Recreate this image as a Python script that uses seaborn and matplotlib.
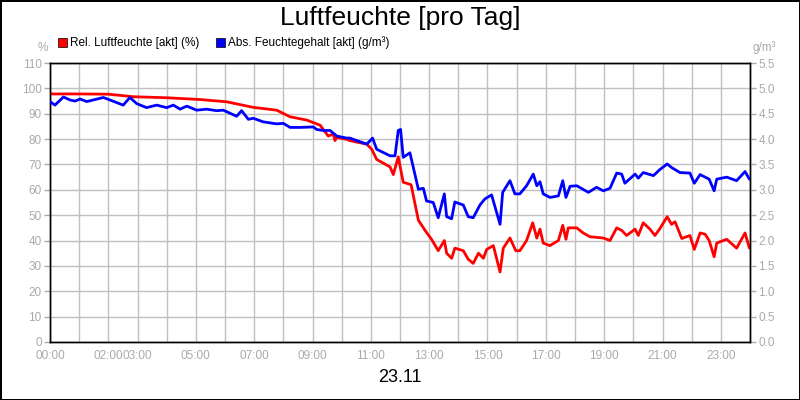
import matplotlib
matplotlib.use("Agg")
import matplotlib.pyplot as plt
import seaborn as sns
import pandas as pd

sns.set_theme(style="white")
plt.rcParams['font.family'] = ['Liberation Sans', 'DejaVu Sans']

rel_hours = [0, 1.0, 2.0, 2.86, 4.0, 5.14, 6.06, 6.97, 7.77, 8.23, 8.80, 9.26, 9.54, 9.71, 9.77, 9.83, 10.17,
             10.28, 10.86, 11.03, 11.2, 11.66, 11.77, 11.94, 12.11, 12.38, 12.63, 12.86, 13.08, 13.31, 13.52, 13.6,
             13.77, 13.88, 14.17, 14.34, 14.51, 14.69, 14.86, 14.97, 15.2, 15.43, 15.54, 15.77, 15.97, 16.11, 16.34,
             16.55, 16.69, 16.8, 16.91, 17.14, 17.43, 17.58, 17.69, 17.77, 18.06, 18.28, 18.51, 18.97, 19.2, 19.43,
             19.6, 19.77, 20.06, 20.17, 20.34, 20.57, 20.74, 20.91, 21.16, 21.31, 21.43, 21.66, 21.94, 22.09, 22.29,
             22.46, 22.6, 22.77, 22.86, 23.2, 23.54, 23.83, 23.98]
rel_values = [97.8, 97.8, 97.7, 96.7, 96.3, 95.6, 94.7, 92.5, 91.4, 88.8, 87.5, 85.5, 81.2, 82, 79.4, 80.7, 79.9,
              79.4, 78, 76, 72, 69, 66, 73, 63, 62, 48, 44, 40.5, 36, 40, 35,
              33, 37, 36, 32.6, 31, 35, 33, 36.5, 38, 27.6, 37, 41, 36, 36, 40,
              47, 41, 44.5, 39, 38, 40, 46, 40.5, 45, 45, 43, 41.5, 41, 40, 45,
              44, 42, 44.5, 42, 47, 44.5, 42, 44.7, 49.4, 46.4, 47.4, 40.8, 42, 36.5, 43,
              42.5, 40, 33.6, 39, 40.5, 37, 43, 37]

abs_hours = [0, 0.17, 0.46, 0.69, 0.86, 1.03, 1.26, 1.83, 2.06, 2.51, 2.74, 2.97, 3.31, 3.66, 4.0, 4.23, 4.46,
             4.69, 5.03, 5.37, 5.71, 5.94, 6.17, 6.40, 6.57, 6.80, 6.97, 7.31, 7.77, 8.0, 8.23, 8.57, 9.03, 9.14,
             9.37, 9.60, 9.83, 10.17, 10.28, 10.86, 11.06, 11.2, 11.66, 11.83, 11.94, 12.02, 12.11, 12.34, 12.63,
             12.8, 12.91, 13.14, 13.31, 13.52, 13.6, 13.77, 13.88, 14.17, 14.34, 14.51, 14.74, 14.91, 15.14, 15.43,
             15.52, 15.77, 15.94, 16.11, 16.34, 16.57, 16.69, 16.8, 16.91, 17.14, 17.43, 17.58, 17.69, 17.83, 18.06,
             18.46, 18.74, 18.97, 19.2, 19.43, 19.6, 19.71, 20.06, 20.17, 20.34, 20.69, 20.91, 21.16, 21.31, 21.6,
             21.94, 22.09, 22.29, 22.6, 22.77, 22.86, 23.2, 23.54, 23.83, 23.98]
abs_values = [4.74, 4.67, 4.83, 4.77, 4.75, 4.79, 4.74, 4.82, 4.77, 4.67, 4.82, 4.70, 4.62, 4.67, 4.62, 4.67, 4.59,
              4.65, 4.57, 4.59, 4.56, 4.57, 4.51, 4.45, 4.56, 4.39, 4.41, 4.34, 4.30, 4.31, 4.23, 4.23, 4.24, 4.19,
              4.17, 4.17, 4.06, 4.02, 4.02, 3.9, 4.02, 3.8, 3.67, 3.67, 4.17, 4.19, 3.64, 3.73, 3.01,
              3.03, 2.78, 2.75, 2.45, 2.92, 2.47, 2.43, 2.76, 2.70, 2.47, 2.45, 2.70, 2.82, 2.90, 2.32,
              2.95, 3.18, 2.92, 2.92, 3.08, 3.31, 3.08, 3.16, 2.92, 2.85, 2.88, 3.18, 2.85, 3.07, 3.08,
              2.95, 3.05, 2.98, 3.03, 3.33, 3.31, 3.13, 3.31, 3.23, 3.34, 3.28, 3.40, 3.51, 3.44, 3.34,
              3.33, 3.13, 3.30, 3.21, 2.98, 3.21, 3.25, 3.18, 3.36, 3.21]

hour_labels = ["00:00", "", "02:00", "03:00", "", "05:00", "", "07:00", "", "09:00", "", "11:00", "",
               "13:00", "", "15:00", "", "17:00", "", "19:00", "", "21:00", "", "23:00", ""]

df_rel = pd.DataFrame({"h": rel_hours, "v": rel_values})
df_abs = pd.DataFrame({"h": abs_hours, "v": abs_values})

fig = plt.figure(figsize=(8, 4), dpi=100)
fig.patch.set_edgecolor("black")
fig.patch.set_linewidth(2)
ax = fig.add_axes([0.0625, 0.145, 0.875, 0.6975])
ax2 = ax.twinx()
gray = "#aaaaaa"

sns.lineplot(data=df_rel, x="h", y="v", ax=ax, color="#ff0000", lw=2, zorder=3)
sns.lineplot(data=df_abs, x="h", y="v", ax=ax2, color="#0000ff", lw=2, zorder=3)

ax.set_xlim(0, 24)
ax.set_ylim(0, 110)
ax2.set_ylim(0, 5.5)
ax.set_xticks(range(25))
ax.set_xticklabels(hour_labels)
ax.set_yticks(range(0, 111, 10))
ax2.set_yticks([i * 0.5 for i in range(12)])
ax2.set_yticklabels([f"{i*0.5:.1f}" for i in range(12)])
ax.grid(True, color="#c0c0c0", lw=1)
ax.set_axisbelow(True)
for a in (ax, ax2):
    a.set_xlabel("")
    a.set_ylabel("")
    a.tick_params(colors=gray, labelsize=8.5, length=4, width=1, direction="out", pad=2)
    for s in a.spines.values():
        s.set_color("black")
        s.set_linewidth(1)
ax.tick_params(axis="x", labelcolor=gray)
ax.tick_params(axis="y", left=True)
ax2.tick_params(axis="y", right=True)

fig.text(0.5, 0.955, "Luftfeuchte [pro Tag]", ha="center", va="center", fontsize=19, color="black")
fig.text(0.5, 0.055, "23.11", ha="center", va="center", fontsize=13, color="black")
fig.text(0.053, 0.88, "%", ha="center", va="center", fontsize=8.5, color=gray)
fig.text(0.955, 0.88, "g/m³", ha="center", va="center", fontsize=8.5, color=gray)
fig.patches.append(plt.Rectangle((0.073, 0.882), 0.011, 0.022, transform=fig.transFigure,
                                 facecolor="#ff0000", edgecolor="black", lw=0.5))
fig.text(0.088, 0.893, "Rel. Luftfeuchte [akt] (%)", ha="left", va="center", fontsize=8.5, color="black")
fig.patches.append(plt.Rectangle((0.27, 0.882), 0.011, 0.022, transform=fig.transFigure,
                                 facecolor="#0000ff", edgecolor="black", lw=0.5))
fig.text(0.285, 0.893, "Abs. Feuchtegehalt [akt] (g/m³)", ha="left", va="center", fontsize=8.5, color="black")

fig.savefig("out.png", dpi=100, edgecolor=fig.get_edgecolor())
